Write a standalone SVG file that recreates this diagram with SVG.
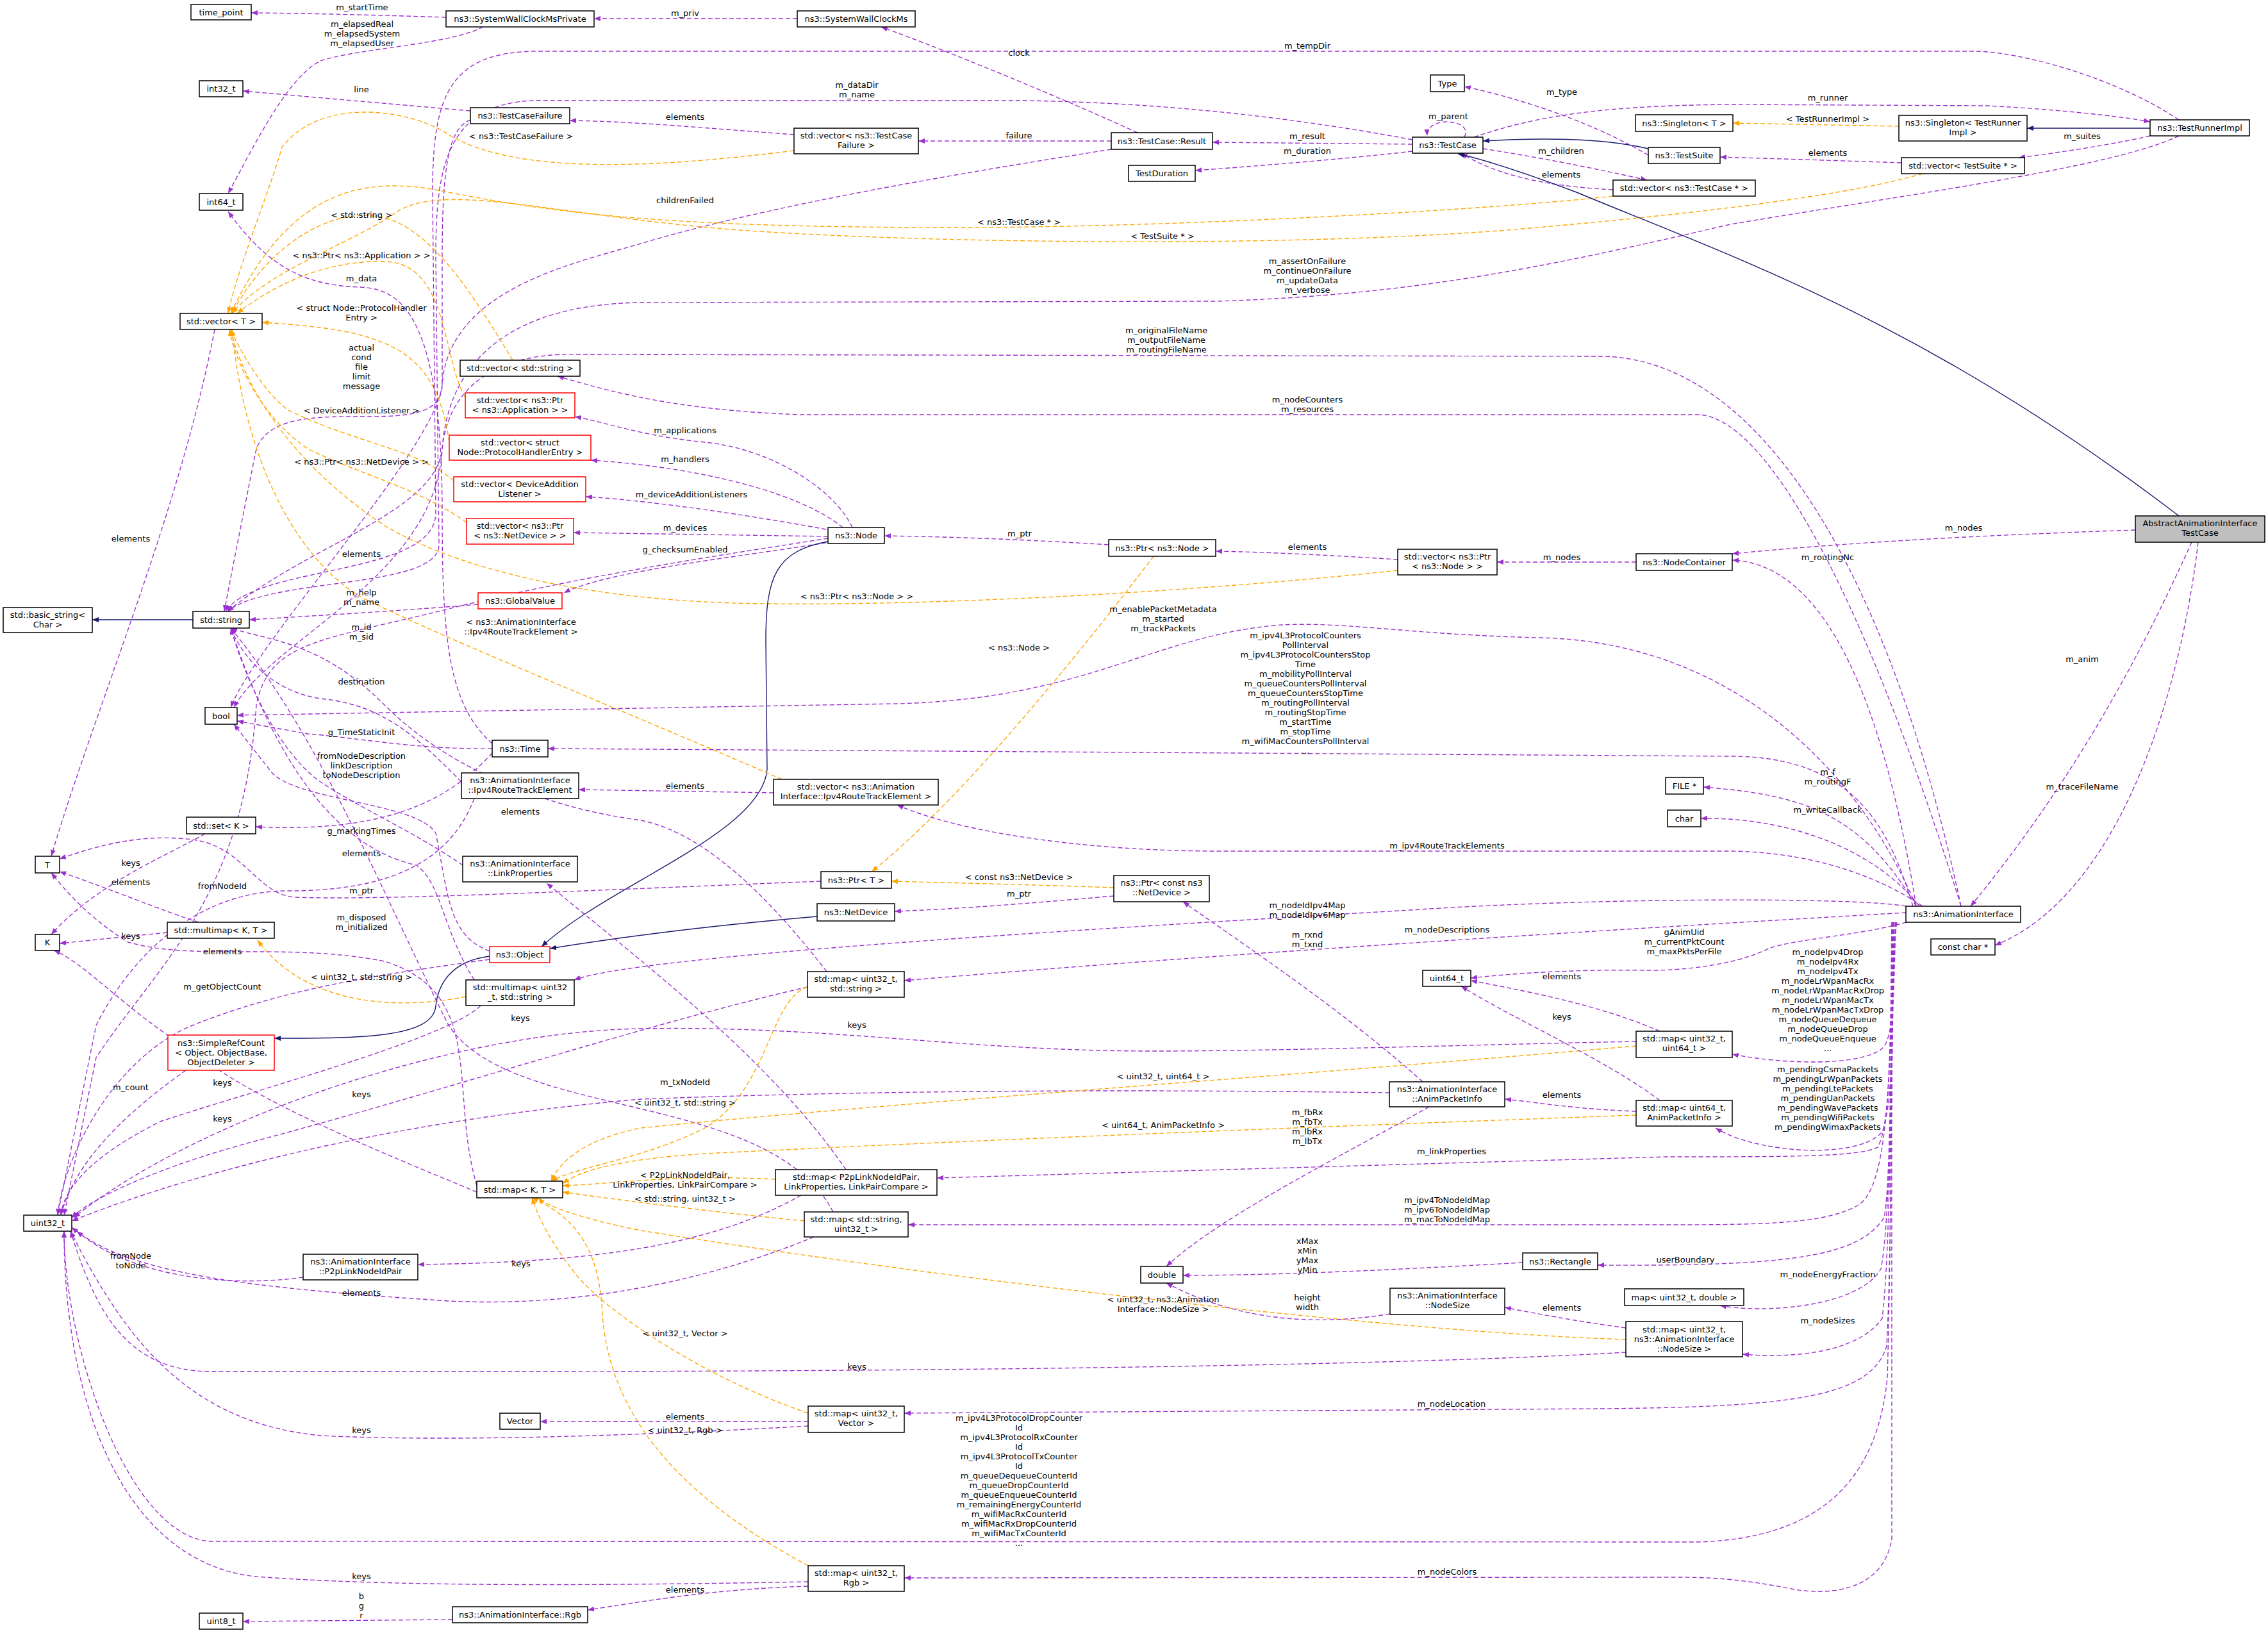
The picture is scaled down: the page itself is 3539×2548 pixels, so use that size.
<svg xmlns="http://www.w3.org/2000/svg" width="3539" height="2548" viewBox="0 0 3539 2548">
<style>
text{font-family:"DejaVu Sans","Liberation Sans",sans-serif;font-size:13px;fill:#000;text-anchor:middle}
.n{fill:#fff;stroke:#000;stroke-width:1.5}
.r{fill:#fff;stroke:#f00;stroke-width:1.5}
.g{fill:#bfbfbf;stroke:#000;stroke-width:1.5}
.p{fill:none;stroke:#9a32cd;stroke-width:1.4;stroke-dasharray:7,4;marker-end:url(#mp)}
.o{fill:none;stroke:#ffa500;stroke-width:1.4;stroke-dasharray:7,4;marker-end:url(#mo)}
.b{fill:none;stroke:#191970;stroke-width:1.4;marker-end:url(#mb)}
</style>
<defs>
<marker id="mp" viewBox="0 0 10 10" refX="10" refY="5" markerWidth="10" markerHeight="10" markerUnits="userSpaceOnUse" orient="auto"><path d="M0,1L10,5L0,9z" fill="#9a32cd"/></marker>
<marker id="mo" viewBox="0 0 10 10" refX="10" refY="5" markerWidth="10" markerHeight="10" markerUnits="userSpaceOnUse" orient="auto"><path d="M0,1L10,5L0,9z" fill="#ffa500"/></marker>
<marker id="mb" viewBox="0 0 10 10" refX="10" refY="5" markerWidth="10" markerHeight="10" markerUnits="userSpaceOnUse" orient="auto"><path d="M0,1L10,5L0,9z" fill="#191970"/></marker>
</defs>
<rect width="3539" height="2548" fill="#fff"/>
<g id="connectors">
<path class="p" d="M696,27 C600,24 500,21 392,20"/>
<path class="p" d="M754,42 C700,70 560,75 500,95 C450,120 400,220 356,302"/>
<path class="p" d="M1244,29 L927,29"/>
<path class="p" d="M1775,207 C1650,150 1480,80 1375,42"/>
<path class="p" d="M3400,187 C3300,120 3150,80 3080,80 L840,80 C700,80 675,150 675,300 L680,800 C680,900 400,880 352,954"/>
<path class="p" d="M2204,218 C2000,180 1800,160 1600,157 L860,157 C700,150 680,250 680,400 L685,850 C685,920 420,900 355,954"/>
<path class="p" d="M734,173 L379,142"/>
<path class="p" d="M1239,210 C1100,200 1000,190 889,188"/>
<path class="p" d="M734,187 C700,200 690,260 690,400 L690,600 C690,700 440,600 400,700 C380,800 360,900 350,954"/>
<path class="o" d="M1239,235 C1000,265 800,270 700,210 C640,170 500,150 440,230 C420,300 370,420 356,489"/>
<path class="p" d="M1734,220 L1433,220"/>
<path class="p" d="M2204,225 L1892,222"/>
<path class="p" d="M2204,236 C2100,248 1950,260 1865,266"/>
<path class="p" d="M2285,214 C2300,185 2225,180 2227,212"/>
<path class="p" d="M1734,233 C1500,270 1200,320 1000,380 C900,410 700,450 690,600 C680,700 400,1000 360,1104"/>
<path class="b" d="M2572,232 C2500,215 2400,215 2314,220"/>
<path class="p" d="M2572,242 C2500,200 2400,160 2285,135"/>
<path class="p" d="M2314,232 C2400,245 2500,265 2570,281"/>
<path class="p" d="M2517,296 C2400,290 2330,270 2280,239"/>
<path class="p" d="M2300,214 C2400,180 2500,165 2700,163 L3100,165 C3200,170 3300,180 3355,190"/>
<path class="o" d="M2963,197 L2704,192"/>
<path class="b" d="M3355,200 L3163,200"/>
<path class="p" d="M3355,212 C3300,225 3200,240 3150,246"/>
<path class="p" d="M2967,254 C2850,250 2750,247 2684,245"/>
<path class="o" d="M2517,306 C2300,330 1800,355 1500,355 C1100,355 900,340 700,300 C560,270 450,300 360,489"/>
<path class="o" d="M3000,271 C2900,300 2700,330 2340,360 C2000,385 1500,380 1200,362 C900,345 700,280 620,330 C550,380 420,420 362,489"/>
<path class="p" d="M3400,212 C3300,260 3000,300 2700,350 C2400,420 2200,460 1900,470 L1000,472 C800,475 700,560 690,700 C680,900 420,1000 365,1104"/>
<path class="b" d="M3400,805 C3000,500 2700,400 2460,300 C2380,270 2320,250 2275,240"/>
<path class="p" d="M3060,1414 C2950,900 2750,560 2500,556 L900,553 C780,550 700,600 690,700 C680,800 480,850 355,954"/>
<path class="p" d="M3060,1414 C2900,900 2750,650 2650,647 L1250,647 C1050,640 950,610 870,587"/>
<path class="p" d="M1330,823 C1300,760 1200,700 1100,690 C1000,680 950,660 897,650"/>
<path class="p" d="M1315,823 C1250,770 1100,730 922,718"/>
<path class="p" d="M1300,828 C1150,800 1000,780 914,775"/>
<path class="p" d="M1292,837 L895,831"/>
<path class="p" d="M1300,845 C1150,870 950,890 880,925"/>
<path class="p" d="M746,943 C600,955 500,960 389,967"/>
<path class="o" d="M800,562 C750,480 680,360 600,340 C520,320 420,380 362,489"/>
<path class="o" d="M726,620 C690,560 700,410 600,408 C500,406 420,450 370,489"/>
<path class="o" d="M701,690 C680,540 600,515 409,503"/>
<path class="o" d="M708,750 C650,700 550,690 450,640 C420,620 380,560 360,514"/>
<path class="o" d="M728,815 C650,760 560,740 480,700 C420,660 370,580 358,514"/>
<path class="p" d="M335,514 C280,800 150,1100 80,1336"/>
<path class="b" d="M301,967 L144,967"/>
<path class="o" d="M2181,890 C1900,920 1500,945 1200,942 C900,940 700,880 600,820 C450,720 380,600 360,514"/>
<path class="p" d="M1730,850 C1600,842 1500,838 1380,836"/>
<path class="p" d="M2181,873 C2100,868 2000,862 1897,860"/>
<path class="p" d="M2553,877 L2336,877"/>
<path class="p" d="M3332,827 C3100,835 2900,845 2703,864"/>
<path class="p" d="M2990,1414 C2940,1100 2850,880 2703,874"/>
<path class="p" d="M3420,846 C3350,1000 3250,1200 3075,1414"/>
<path class="p" d="M3430,846 C3400,1100 3300,1400 3113,1475"/>
<path class="b" d="M1292,845 C1210,860 1195,900 1195,1000 L1197,1200 C1190,1300 950,1380 845,1477"/>
<path class="b" d="M1275,1430 C1100,1445 950,1465 858,1480"/>
<path class="b" d="M764,1492 C700,1500 683,1540 680,1570 C675,1620 560,1620 428,1620"/>
<path class="o" d="M1800,868 C1700,1000 1500,1250 1360,1360"/>
<path class="o" d="M1738,1385 C1600,1380 1500,1378 1391,1375"/>
<path class="p" d="M1738,1398 C1600,1410 1500,1418 1396,1422"/>
<path class="p" d="M1281,1375 C900,1390 600,1405 460,1400 C400,1395 380,1320 300,1310 C220,1300 150,1320 93,1340"/>
<path class="p" d="M2990,1414 C2900,1200 2700,1000 2400,995 C2200,990 2100,970 2000,975 C1800,990 1700,1090 1400,1098 L370,1116"/>
<path class="p" d="M2985,1414 C2950,1300 2900,1180 2700,1180 L855,1168"/>
<path class="p" d="M768,1160 C700,1100 690,1000 690,800 C690,480 620,450 560,448 C480,445 420,420 356,330"/>
<path class="p" d="M768,1168 C650,1170 550,1150 480,1145 L370,1125"/>
<path class="p" d="M1207,1237 L903,1232"/>
<path class="o" d="M1220,1216 C1000,1120 700,1000 560,930 C450,860 380,700 362,514"/>
<path class="p" d="M3000,1414 C2950,1380 2850,1330 2700,1328 L1900,1328 C1700,1328 1500,1300 1400,1256"/>
<path class="p" d="M720,1220 C650,1150 600,1100 500,1090 C430,1080 380,1030 360,980"/>
<path class="p" d="M740,1246 C700,1350 600,1390 450,1390 C300,1390 200,1500 150,1600 L90,1896"/>
<path class="p" d="M722,1350 C650,1300 560,1260 500,1220 C430,1170 380,1050 360,980"/>
<path class="p" d="M2990,1414 C2900,1260 2800,1240 2658,1228"/>
<path class="p" d="M2995,1414 C2930,1330 2800,1275 2654,1277"/>
<path class="p" d="M764,1484 C700,1460 700,1400 680,1300 C650,1250 450,1250 420,1200 L365,1130"/>
<path class="p" d="M1290,1516 C1200,1400 1100,1300 1000,1280 C850,1260 700,1200 600,1100 C500,1000 420,1000 360,980"/>
<path class="p" d="M740,1529 C690,1450 690,1380 650,1350 C560,1330 450,1250 360,980"/>
<path class="o" d="M727,1555 C600,1580 470,1560 402,1467"/>
<path class="p" d="M764,1497 C600,1520 450,1540 300,1600 C180,1650 100,1800 90,1896"/>
<path class="p" d="M750,1569 C700,1620 400,1700 250,1750 C150,1800 100,1850 95,1896"/>
<path class="p" d="M290,1670 C220,1720 120,1800 95,1896"/>
<path class="p" d="M320,1301 C250,1340 150,1380 80,1458"/>
<path class="p" d="M310,1439 C250,1420 180,1390 93,1360"/>
<path class="p" d="M261,1455 L93,1472"/>
<path class="p" d="M744,1850 C700,1700 760,1550 600,1500 C450,1470 300,1500 200,1470 C150,1440 110,1400 80,1362"/>
<path class="p" d="M744,1860 C600,1800 400,1720 300,1640 C200,1580 130,1500 84,1483"/>
<path class="p" d="M1260,1540 C1000,1600 700,1700 400,1780 C250,1820 140,1870 112,1900"/>
<path class="p" d="M1300,1891 C1200,1700 800,1750 700,1600 C600,1400 500,1150 360,980"/>
<path class="p" d="M2168,1705 C1800,1700 1400,1700 1000,1715 C600,1750 300,1830 112,1905"/>
<path class="p" d="M2220,1688 C2100,1580 1950,1480 1846,1407"/>
<path class="p" d="M2230,1727 C2100,1800 1900,1900 1820,1976"/>
<path class="p" d="M2952,1439 C2950,1600 2952,1750 2930,1790 C2900,1805 2800,1805 2600,1805 L1462,1838"/>
<path class="p" d="M1320,1825 C1200,1650 1000,1500 853,1378"/>
<path class="p" d="M1250,1865 C1100,1950 900,1970 652,1973"/>
<path class="o" d="M1210,1840 C1050,1832 950,1848 878,1850"/>
<path class="o" d="M1255,1905 C1100,1890 950,1870 878,1860"/>
<path class="o" d="M1260,1540 C1200,1560 1200,1700 1100,1760 C1000,1810 900,1820 860,1843"/>
<path class="o" d="M2553,1632 C2000,1680 1400,1720 1000,1760 C900,1780 870,1820 860,1843"/>
<path class="o" d="M2553,1740 C2000,1760 1500,1780 1100,1800 C950,1810 900,1830 878,1847"/>
<path class="o" d="M2537,2090 C2200,2080 1500,2000 1000,1920 C900,1900 850,1880 840,1869"/>
<path class="o" d="M1261,2205 C1100,2150 950,2050 900,1990 C860,1940 840,1900 830,1869"/>
<path class="o" d="M1261,2443 C1050,2330 950,2200 940,2050 C935,1950 900,1900 830,1869"/>
<path class="p" d="M1270,1930 C1100,2000 900,2040 700,2030 C400,2010 200,1990 112,1915"/>
<path class="p" d="M473,1993 C350,2010 200,1990 120,1921"/>
<path class="p" d="M2537,2110 C2200,2130 1500,2140 800,2140 L330,2140 C200,2140 150,2050 110,1921"/>
<path class="p" d="M1261,2218 L843,2218"/>
<path class="p" d="M1261,2225 C1000,2240 700,2250 500,2240 C300,2220 200,2100 110,1921"/>
<path class="p" d="M2956,1439 C2950,1700 2952,1950 2944,2100 C2920,2180 2800,2195 2500,2198 L1411,2205"/>
<path class="p" d="M2958,1439 C2950,1600 2952,1900 2945,2150 C2930,2300 2850,2400 2650,2406 L330,2405 C200,2400 100,2100 100,1921"/>
<path class="p" d="M1261,2468 C900,2475 600,2475 400,2460 C200,2440 100,2200 100,1921"/>
<path class="p" d="M1261,2475 C1100,2480 1000,2500 917,2512"/>
<path class="p" d="M706,2527 L379,2530"/>
<path class="p" d="M2960,1439 C2950,1500 2952,1700 2952,2000 L2952,2400 C2940,2480 2860,2490 2800,2480 C2700,2460 2650,2461 2600,2461 L1411,2462"/>
<path class="p" d="M2953,1439 C2950,1650 2950,1850 2940,1900 C2900,1960 2800,1976 2493,1974"/>
<path class="p" d="M2376,1970 C2200,1980 2000,1990 1846,1990"/>
<path class="p" d="M2169,2050 C2050,2070 1930,2060 1820,2002"/>
<path class="p" d="M2954,1439 C2950,1700 2950,1900 2935,1980 C2900,2040 2750,2050 2684,2037"/>
<path class="p" d="M2955,1439 C2950,1700 2950,1950 2937,2057 C2900,2110 2800,2120 2719,2113"/>
<path class="p" d="M2537,2072 C2450,2060 2400,2050 2348,2040"/>
<path class="p" d="M2952,1439 C2950,1650 2950,1850 2900,1880 C2850,1910 2750,1911 2600,1911 L1417,1911"/>
<path class="p" d="M2955,1439 C2952,1600 2955,1720 2937,1766 C2900,1810 2740,1800 2677,1760"/>
<path class="p" d="M2958,1439 C2955,1550 2955,1620 2937,1636 C2900,1665 2780,1660 2703,1645"/>
<path class="p" d="M2975,1439 C2900,1460 2800,1465 2760,1480 C2700,1510 2600,1515 2570,1514 C2450,1512 2350,1520 2295,1526"/>
<path class="p" d="M2590,1609 C2500,1570 2400,1550 2295,1530"/>
<path class="p" d="M2590,1717 C2500,1650 2380,1600 2280,1539"/>
<path class="p" d="M2553,1734 C2450,1730 2400,1720 2348,1715"/>
<path class="p" d="M2553,1625 C2300,1630 2000,1640 1800,1640 C1500,1640 1300,1600 1000,1605 C700,1610 300,1750 115,1900"/>
<path class="p" d="M2974,1424 C2700,1440 2000,1480 1411,1530"/>
<path class="p" d="M2974,1414 C2900,1400 2500,1400 2200,1420 C1700,1450 1000,1490 896,1529"/>
<path class="p" d="M1292,840 C1100,870 900,900 700,950 C500,1000 420,1000 400,1100 C380,1400 250,1500 150,1650 L100,1896"/>
<path class="p" d="M768,1175 C700,1250 600,1300 399,1290"/>
<text x="565" y="16">m_startTime</text>
<text x="565" y="42">m_elapsedReal<tspan x="565" dy="15">m_elapsedSystem</tspan><tspan x="565" dy="15">m_elapsedUser</tspan></text>
<text x="1069" y="25">m_priv</text>
<text x="1590" y="87">clock</text>
<text x="2040" y="76">m_tempDir</text>
<text x="1337" y="137">m_dataDir<tspan x="1337" dy="15">m_name</tspan></text>
<text x="564" y="144">line</text>
<text x="1069" y="187">elements</text>
<text x="564" y="547">actual<tspan x="564" dy="15">cond</tspan><tspan x="564" dy="15">file</tspan><tspan x="564" dy="15">limit</tspan><tspan x="564" dy="15">message</tspan></text>
<text x="813" y="217">&lt; ns3::TestCaseFailure &gt;</text>
<text x="1590" y="216">failure</text>
<text x="2040" y="217">m_result</text>
<text x="2040" y="240">m_duration</text>
<text x="2260" y="186">m_parent</text>
<text x="1069" y="317">childrenFailed</text>
<text x="2437" y="148">m_type</text>
<text x="2436" y="240">m_children</text>
<text x="2436" y="277">elements</text>
<text x="2852" y="157">m_runner</text>
<text x="2852" y="190">&lt; TestRunnerImpl &gt;</text>
<text x="3249" y="217">m_suites</text>
<text x="2852" y="243">elements</text>
<text x="1590" y="351">&lt; ns3::TestCase * &gt;</text>
<text x="1814" y="373">&lt; TestSuite * &gt;</text>
<text x="2040" y="412">m_assertOnFailure<tspan x="2040" dy="15">m_continueOnFailure</tspan><tspan x="2040" dy="15">m_updateData</tspan><tspan x="2040" dy="15">m_verbose</tspan></text>
<text x="1820" y="520">m_originalFileName<tspan x="1820" dy="15">m_outputFileName</tspan><tspan x="1820" dy="15">m_routingFileName</tspan></text>
<text x="2040" y="628">m_nodeCounters<tspan x="2040" dy="15">m_resources</tspan></text>
<text x="1069" y="676">m_applications</text>
<text x="1069" y="721">m_handlers</text>
<text x="1079" y="776">m_deviceAdditionListeners</text>
<text x="1069" y="828">m_devices</text>
<text x="1069" y="862">g_checksumEnabled</text>
<text x="564" y="929">m_help<tspan x="564" dy="15">m_name</tspan></text>
<text x="564" y="340">&lt; std::string &gt;</text>
<text x="564" y="403">&lt; ns3::Ptr&lt; ns3::Application &gt; &gt;</text>
<text x="564" y="485">&lt; struct Node::ProtocolHandler<tspan x="564" dy="15">Entry &gt;</tspan></text>
<text x="564" y="645">&lt; DeviceAdditionListener &gt;</text>
<text x="564" y="725">&lt; ns3::Ptr&lt; ns3::NetDevice &gt; &gt;</text>
<text x="204" y="845">elements</text>
<text x="564" y="869">elements</text>
<text x="1337" y="935">&lt; ns3::Ptr&lt; ns3::Node &gt; &gt;</text>
<text x="1591" y="837">m_ptr</text>
<text x="2040" y="858">elements</text>
<text x="2437" y="874">m_nodes</text>
<text x="3064" y="828">m_nodes</text>
<text x="2852" y="874">m_routingNc</text>
<text x="3249" y="1033">m_anim</text>
<text x="3249" y="1232">m_traceFileName</text>
<text x="1590" y="1015">&lt; ns3::Node &gt;</text>
<text x="1590" y="1373">&lt; const ns3::NetDevice &gt;</text>
<text x="1590" y="1399">m_ptr</text>
<text x="564" y="1394">m_ptr</text>
<text x="1815" y="955">m_enablePacketMetadata<tspan x="1815" dy="15">m_started</tspan><tspan x="1815" dy="15">m_trackPackets</tspan></text>
<text x="2037" y="996">m_ipv4L3ProtocolCounters<tspan x="2037" dy="15">PollInterval</tspan><tspan x="2037" dy="15">m_ipv4L3ProtocolCountersStop</tspan><tspan x="2037" dy="15">Time</tspan><tspan x="2037" dy="15">m_mobilityPollInterval</tspan><tspan x="2037" dy="15">m_queueCountersPollInterval</tspan><tspan x="2037" dy="15">m_queueCountersStopTime</tspan><tspan x="2037" dy="15">m_routingPollInterval</tspan><tspan x="2037" dy="15">m_routingStopTime</tspan><tspan x="2037" dy="15">m_startTime</tspan><tspan x="2037" dy="15">m_stopTime</tspan><tspan x="2037" dy="15">m_wifiMacCountersPollInterval</tspan><tspan x="2037" dy="15">...</tspan></text>
<text x="564" y="439">m_data</text>
<text x="564" y="1147">g_TimeStaticInit</text>
<text x="1069" y="1231">elements</text>
<text x="813" y="975">&lt; ns3::AnimationInterface<tspan x="813" dy="15">::Ipv4RouteTrackElement &gt;</tspan></text>
<text x="2258" y="1324">m_ipv4RouteTrackElements</text>
<text x="564" y="983">m_id<tspan x="564" dy="15">m_sid</tspan></text>
<text x="564" y="1068">destination</text>
<text x="347" y="1387">fromNodeId</text>
<text x="564" y="1184">fromNodeDescription<tspan x="564" dy="15">linkDescription</tspan><tspan x="564" dy="15">toNodeDescription</tspan></text>
<text x="2852" y="1209">m_f<tspan x="2852" dy="15">m_routingF</tspan></text>
<text x="2852" y="1268">m_writeCallback</text>
<text x="564" y="1436">m_disposed<tspan x="564" dy="15">m_initialized</tspan></text>
<text x="812" y="1271">elements</text>
<text x="564" y="1336">elements</text>
<text x="564" y="1301">g_markingTimes</text>
<text x="564" y="1529">&lt; uint32_t, std::string &gt;</text>
<text x="347" y="1544">m_getObjectCount</text>
<text x="812" y="1593">keys</text>
<text x="204" y="1701">m_count</text>
<text x="204" y="1351">keys</text>
<text x="204" y="1381">elements</text>
<text x="204" y="1465">keys</text>
<text x="347" y="1489">elements</text>
<text x="347" y="1694">keys</text>
<text x="564" y="1712">keys</text>
<text x="347" y="1750">keys</text>
<text x="1069" y="1693">m_txNodeId</text>
<text x="1069" y="1725">&lt; uint32_t, std::string &gt;</text>
<text x="1069" y="1838">&lt; P2pLinkNodeIdPair,<tspan x="1069" dy="15">LinkProperties, LinkPairCompare &gt;</tspan></text>
<text x="1069" y="1875">&lt; std::string, uint32_t &gt;</text>
<text x="1337" y="1604">keys</text>
<text x="1815" y="1684">&lt; uint32_t, uint64_t &gt;</text>
<text x="1815" y="1760">&lt; uint64_t, AnimPacketInfo &gt;</text>
<text x="2040" y="1740">m_fbRx<tspan x="2040" dy="15">m_fbTx</tspan><tspan x="2040" dy="15">m_lbRx</tspan><tspan x="2040" dy="15">m_lbTx</tspan></text>
<text x="2265" y="1801">m_linkProperties</text>
<text x="2040" y="1417">m_nodeIdIpv4Map<tspan x="2040" dy="15">m_nodeIdIpv6Map</tspan></text>
<text x="2258" y="1455">m_nodeDescriptions</text>
<text x="2040" y="1463">m_rxnd<tspan x="2040" dy="15">m_txnd</tspan></text>
<text x="2258" y="1877">m_ipv4ToNodeIdMap<tspan x="2258" dy="15">m_ipv6ToNodeIdMap</tspan><tspan x="2258" dy="15">m_macToNodeIdMap</tspan></text>
<text x="2628" y="1459">gAnimUid<tspan x="2628" dy="15">m_currentPktCount</tspan><tspan x="2628" dy="15">m_maxPktsPerFile</tspan></text>
<text x="2437" y="1528">elements</text>
<text x="2437" y="1591">keys</text>
<text x="2852" y="1490">m_nodeIpv4Drop<tspan x="2852" dy="15">m_nodeIpv4Rx</tspan><tspan x="2852" dy="15">m_nodeIpv4Tx</tspan><tspan x="2852" dy="15">m_nodeLrWpanMacRx</tspan><tspan x="2852" dy="15">m_nodeLrWpanMacRxDrop</tspan><tspan x="2852" dy="15">m_nodeLrWpanMacTx</tspan><tspan x="2852" dy="15">m_nodeLrWpanMacTxDrop</tspan><tspan x="2852" dy="15">m_nodeQueueDequeue</tspan><tspan x="2852" dy="15">m_nodeQueueDrop</tspan><tspan x="2852" dy="15">m_nodeQueueEnqueue</tspan><tspan x="2852" dy="15">...</tspan></text>
<text x="2852" y="1673">m_pendingCsmaPackets<tspan x="2852" dy="15">m_pendingLrWpanPackets</tspan><tspan x="2852" dy="15">m_pendingLtePackets</tspan><tspan x="2852" dy="15">m_pendingUanPackets</tspan><tspan x="2852" dy="15">m_pendingWavePackets</tspan><tspan x="2852" dy="15">m_pendingWifiPackets</tspan><tspan x="2852" dy="15">m_pendingWimaxPackets</tspan></text>
<text x="2437" y="1713">elements</text>
<text x="204" y="1964">fromNode<tspan x="204" dy="15">toNode</tspan></text>
<text x="813" y="1976">keys</text>
<text x="564" y="2022">elements</text>
<text x="1069" y="2085">&lt; uint32_t, Vector &gt;</text>
<text x="1069" y="2215">elements</text>
<text x="1069" y="2236">&lt; uint32_t, Rgb &gt;</text>
<text x="564" y="2236">keys</text>
<text x="564" y="2464">keys</text>
<text x="1069" y="2485">elements</text>
<text x="564" y="2495">b<tspan x="564" dy="15">g</tspan><tspan x="564" dy="15">r</tspan></text>
<text x="2040" y="1941">xMax<tspan x="2040" dy="15">xMin</tspan><tspan x="2040" dy="15">yMax</tspan><tspan x="2040" dy="15">yMin</tspan></text>
<text x="1815" y="2032">&lt; uint32_t, ns3::Animation<tspan x="1815" dy="15">Interface::NodeSize &gt;</tspan></text>
<text x="2040" y="2029">height<tspan x="2040" dy="15">width</tspan></text>
<text x="1337" y="2137">keys</text>
<text x="2265" y="2195">m_nodeLocation</text>
<text x="1590" y="2217">m_ipv4L3ProtocolDropCounter<tspan x="1590" dy="15">Id</tspan><tspan x="1590" dy="15">m_ipv4L3ProtocolRxCounter</tspan><tspan x="1590" dy="15">Id</tspan><tspan x="1590" dy="15">m_ipv4L3ProtocolTxCounter</tspan><tspan x="1590" dy="15">Id</tspan><tspan x="1590" dy="15">m_queueDequeueCounterId</tspan><tspan x="1590" dy="15">m_queueDropCounterId</tspan><tspan x="1590" dy="15">m_queueEnqueueCounterId</tspan><tspan x="1590" dy="15">m_remainingEnergyCounterId</tspan><tspan x="1590" dy="15">m_wifiMacRxCounterId</tspan><tspan x="1590" dy="15">m_wifiMacRxDropCounterId</tspan><tspan x="1590" dy="15">m_wifiMacTxCounterId</tspan><tspan x="1590" dy="15">...</tspan></text>
<text x="2258" y="2457">m_nodeColors</text>
<text x="2630" y="1970">userBoundary</text>
<text x="2852" y="1993">m_nodeEnergyFraction</text>
<text x="2437" y="2045">elements</text>
<text x="2852" y="2065">m_nodeSizes</text>
</g>
<g id="time_point"><rect class="n" x="298" y="7" width="94" height="24"/><text x="345" y="23.5">time_point</text></g>
<g id="SystemWallClockMsPrivate"><rect class="n" x="696" y="17" width="231" height="25"/><text x="811.5" y="34">ns3::SystemWallClockMsPrivate</text></g>
<g id="int32_t"><rect class="n" x="311" y="126" width="68" height="25"/><text x="345" y="143">int32_t</text></g>
<g id="TestCaseFailure"><rect class="n" x="734" y="168" width="155" height="25"/><text x="811.5" y="185">ns3::TestCaseFailure</text></g>
<g id="int64_t"><rect class="n" x="311" y="302" width="68" height="26"/><text x="345" y="319.5">int64_t</text></g>
<g id="vectorT"><rect class="n" x="281" y="489" width="128" height="25"/><text x="345" y="506">std::vector&lt; T &gt;</text></g>
<g id="vecString"><rect class="n" x="718" y="562" width="187" height="25"/><text x="811.5" y="579">std::vector&lt; std::string &gt;</text></g>
<g id="vecPtrApp"><rect class="r" x="726" y="613" width="171" height="39"/><text x="811.5" y="629">std::vector&lt; ns3::Ptr<tspan x="811.5" dy="15">&lt; ns3::Application &gt; &gt;</tspan></text></g>
<g id="vecPHE"><rect class="r" x="701" y="679" width="221" height="39"/><text x="811.5" y="695">std::vector&lt; struct<tspan x="811.5" dy="15">Node::ProtocolHandlerEntry &gt;</tspan></text></g>
<g id="vecDAL"><rect class="r" x="708" y="744" width="206" height="39"/><text x="811" y="760">std::vector&lt; DeviceAddition<tspan x="811" dy="15">Listener &gt;</tspan></text></g>
<g id="vecPtrND"><rect class="r" x="728" y="809" width="167" height="40"/><text x="811.5" y="825">std::vector&lt; ns3::Ptr<tspan x="811.5" dy="15">&lt; ns3::NetDevice &gt; &gt;</tspan></text></g>
<g id="GlobalValue"><rect class="r" x="746" y="925" width="131" height="25"/><text x="811.5" y="942">ns3::GlobalValue</text></g>
<g id="basic_string"><rect class="n" x="5" y="948" width="139" height="39"/><text x="74.5" y="964">std::basic_string&lt;<tspan x="74.5" dy="15">Char &gt;</tspan></text></g>
<g id="std_string"><rect class="n" x="301" y="954" width="88" height="26"/><text x="345" y="971.5">std::string</text></g>
<g id="bool"><rect class="n" x="320" y="1104" width="50" height="26"/><text x="345" y="1121.5">bool</text></g>
<g id="Time"><rect class="n" x="768" y="1155" width="87" height="26"/><text x="811.5" y="1172.5">ns3::Time</text></g>
<g id="Ipv4RTE"><rect class="n" x="720" y="1206" width="183" height="40"/><text x="811.5" y="1222">ns3::AnimationInterface<tspan x="811.5" dy="15">::Ipv4RouteTrackElement</tspan></text></g>
<g id="setK"><rect class="n" x="291" y="1275" width="108" height="26"/><text x="345" y="1292.5">std::set&lt; K &gt;</text></g>
<g id="T"><rect class="n" x="55" y="1336" width="38" height="26"/><text x="74" y="1353.5">T</text></g>
<g id="LinkProperties"><rect class="n" x="722" y="1336" width="179" height="40"/><text x="811.5" y="1352">ns3::AnimationInterface<tspan x="811.5" dy="15">::LinkProperties</tspan></text></g>
<g id="K"><rect class="n" x="55" y="1458" width="38" height="25"/><text x="74" y="1475">K</text></g>
<g id="multimapKT"><rect class="n" x="261" y="1439" width="167" height="25"/><text x="344.5" y="1456">std::multimap&lt; K, T &gt;</text></g>
<g id="Object"><rect class="r" x="764" y="1477" width="94" height="25"/><text x="811" y="1494">ns3::Object</text></g>
<g id="multimapU32S"><rect class="n" x="727" y="1529" width="169" height="40"/><text x="811.5" y="1545">std::multimap&lt; uint32<tspan x="811.5" dy="15">_t, std::string &gt;</tspan></text></g>
<g id="SimpleRefCount"><rect class="r" x="262" y="1615" width="166" height="55"/><text x="345" y="1632">ns3::SimpleRefCount<tspan x="345" dy="15">&lt; Object, ObjectBase,</tspan><tspan x="345" dy="15">ObjectDeleter &gt;</tspan></text></g>
<g id="mapKT"><rect class="n" x="744" y="1843" width="134" height="26"/><text x="811" y="1860.5">std::map&lt; K, T &gt;</text></g>
<g id="uint32_t"><rect class="n" x="37" y="1896" width="75" height="25"/><text x="74.5" y="1913">uint32_t</text></g>
<g id="P2pPair"><rect class="n" x="473" y="1957" width="179" height="40"/><text x="562.5" y="1973">ns3::AnimationInterface<tspan x="562.5" dy="15">::P2pLinkNodeIdPair</tspan></text></g>
<g id="Vector"><rect class="n" x="780" y="2205" width="63" height="25"/><text x="811.5" y="2222">Vector</text></g>
<g id="uint8_t"><rect class="n" x="311" y="2517" width="68" height="25"/><text x="345" y="2534">uint8_t</text></g>
<g id="Rgb"><rect class="n" x="706" y="2507" width="211" height="25"/><text x="811.5" y="2524">ns3::AnimationInterface::Rgb</text></g>
<g id="SystemWallClockMs"><rect class="n" x="1244" y="17" width="184" height="25"/><text x="1336" y="34">ns3::SystemWallClockMs</text></g>
<g id="Type"><rect class="n" x="2232" y="117" width="53" height="26"/><text x="2258.5" y="134.5">Type</text></g>
<g id="vecTCF"><rect class="n" x="1239" y="200" width="194" height="40"/><text x="1336" y="216">std::vector&lt; ns3::TestCase<tspan x="1336" dy="15">Failure &gt;</tspan></text></g>
<g id="TCResult"><rect class="n" x="1734" y="207" width="158" height="26"/><text x="1813" y="224.5">ns3::TestCase::Result</text></g>
<g id="TestCase"><rect class="n" x="2204" y="214" width="110" height="25"/><text x="2259" y="231">ns3::TestCase</text></g>
<g id="TestDuration"><rect class="n" x="1761" y="258" width="104" height="25"/><text x="1813" y="275">TestDuration</text></g>
<g id="Node"><rect class="n" x="1292" y="823" width="88" height="25"/><text x="1336" y="840">ns3::Node</text></g>
<g id="PtrNode"><rect class="n" x="1730" y="842" width="167" height="26"/><text x="1813.5" y="859.5">ns3::Ptr&lt; ns3::Node &gt;</text></g>
<g id="vecPtrNode"><rect class="n" x="2181" y="857" width="155" height="40"/><text x="2258.5" y="873">std::vector&lt; ns3::Ptr<tspan x="2258.5" dy="15">&lt; ns3::Node &gt; &gt;</tspan></text></g>
<g id="SingletonT"><rect class="n" x="2552" y="179" width="152" height="26"/><text x="2628" y="196.5">ns3::Singleton&lt; T &gt;</text></g>
<g id="SingletonTRI"><rect class="n" x="2963" y="180" width="200" height="40"/><text x="3063" y="196">ns3::Singleton&lt; TestRunner<tspan x="3063" dy="15">Impl &gt;</tspan></text></g>
<g id="TestRunnerImpl"><rect class="n" x="3355" y="187" width="155" height="25"/><text x="3432.5" y="204">ns3::TestRunnerImpl</text></g>
<g id="TestSuite"><rect class="n" x="2572" y="230" width="112" height="25"/><text x="2628" y="247">ns3::TestSuite</text></g>
<g id="vecTestSuite"><rect class="n" x="2967" y="246" width="192" height="25"/><text x="3063" y="263">std::vector&lt; TestSuite * &gt;</text></g>
<g id="vecTestCase"><rect class="n" x="2517" y="281" width="222" height="25"/><text x="2628" y="298">std::vector&lt; ns3::TestCase * &gt;</text></g>
<g id="AbstractTC"><rect class="g" x="3332" y="805" width="202" height="41"/><text x="3433" y="821">AbstractAnimationInterface<tspan x="3433" dy="15">TestCase</tspan></text></g>
<g id="NodeContainer"><rect class="n" x="2553" y="864" width="150" height="26"/><text x="2628" y="881.5">ns3::NodeContainer</text></g>
<g id="vecIpv4RTE"><rect class="n" x="1207" y="1216" width="257" height="40"/><text x="1335.5" y="1232">std::vector&lt; ns3::Animation<tspan x="1335.5" dy="15">Interface::Ipv4RouteTrackElement &gt;</tspan></text></g>
<g id="PtrT"><rect class="n" x="1281" y="1360" width="110" height="26"/><text x="1336" y="1377.5">ns3::Ptr&lt; T &gt;</text></g>
<g id="PtrConstND"><rect class="n" x="1738" y="1366" width="149" height="41"/><text x="1812.5" y="1382">ns3::Ptr&lt; const ns3<tspan x="1812.5" dy="15">::NetDevice &gt;</tspan></text></g>
<g id="NetDevice"><rect class="n" x="1275" y="1410" width="121" height="27"/><text x="1335.5" y="1428">ns3::NetDevice</text></g>
<g id="mapU32S"><rect class="n" x="1260" y="1516" width="151" height="40"/><text x="1335.5" y="1532">std::map&lt; uint32_t,<tspan x="1335.5" dy="15">std::string &gt;</tspan></text></g>
<g id="uint64_t"><rect class="n" x="2220" y="1514" width="75" height="25"/><text x="2257.5" y="1531">uint64_t</text></g>
<g id="AnimPacketInfo"><rect class="n" x="2168" y="1688" width="180" height="39"/><text x="2258" y="1704">ns3::AnimationInterface<tspan x="2258" dy="15">::AnimPacketInfo</tspan></text></g>
<g id="mapP2p"><rect class="n" x="1210" y="1825" width="252" height="40"/><text x="1336" y="1841">std::map&lt; P2pLinkNodeIdPair,<tspan x="1336" dy="15">LinkProperties, LinkPairCompare &gt;</tspan></text></g>
<g id="mapSU32"><rect class="n" x="1255" y="1891" width="162" height="39"/><text x="1336" y="1907">std::map&lt; std::string,<tspan x="1336" dy="15">uint32_t &gt;</tspan></text></g>
<g id="FILE"><rect class="n" x="2599" y="1213" width="59" height="26"/><text x="2628.5" y="1230.5">FILE *</text></g>
<g id="char"><rect class="n" x="2602" y="1264" width="52" height="26"/><text x="2628" y="1281.5">char</text></g>
<g id="AnimIf"><rect class="n" x="2974" y="1414" width="179" height="25"/><text x="3063.5" y="1431">ns3::AnimationInterface</text></g>
<g id="constchar"><rect class="n" x="3013" y="1465" width="100" height="25"/><text x="3063" y="1482">const char *</text></g>
<g id="mapU32U64"><rect class="n" x="2553" y="1609" width="150" height="41"/><text x="2628" y="1625">std::map&lt; uint32_t,<tspan x="2628" dy="15">uint64_t &gt;</tspan></text></g>
<g id="mapU64API"><rect class="n" x="2553" y="1717" width="150" height="40"/><text x="2628" y="1733">std::map&lt; uint64_t,<tspan x="2628" dy="15">AnimPacketInfo &gt;</tspan></text></g>
<g id="double"><rect class="n" x="1780" y="1976" width="66" height="26"/><text x="1813" y="1993.5">double</text></g>
<g id="NodeSize"><rect class="n" x="2169" y="2010" width="179" height="41"/><text x="2258.5" y="2026">ns3::AnimationInterface<tspan x="2258.5" dy="15">::NodeSize</tspan></text></g>
<g id="mapU32Vec"><rect class="n" x="1261" y="2194" width="150" height="41"/><text x="1336" y="2210">std::map&lt; uint32_t,<tspan x="1336" dy="15">Vector &gt;</tspan></text></g>
<g id="mapU32Rgb"><rect class="n" x="1261" y="2443" width="150" height="40"/><text x="1336" y="2459">std::map&lt; uint32_t,<tspan x="1336" dy="15">Rgb &gt;</tspan></text></g>
<g id="Rectangle"><rect class="n" x="2376" y="1955" width="117" height="26"/><text x="2434.5" y="1972.5">ns3::Rectangle</text></g>
<g id="mapU32Dbl"><rect class="n" x="2535" y="2011" width="186" height="26"/><text x="2628" y="2028.5">map&lt; uint32_t, double &gt;</text></g>
<g id="mapU32NS"><rect class="n" x="2537" y="2062" width="182" height="55"/><text x="2628" y="2079">std::map&lt; uint32_t,<tspan x="2628" dy="15">ns3::AnimationInterface</tspan><tspan x="2628" dy="15">::NodeSize &gt;</tspan></text></g>
</svg>
